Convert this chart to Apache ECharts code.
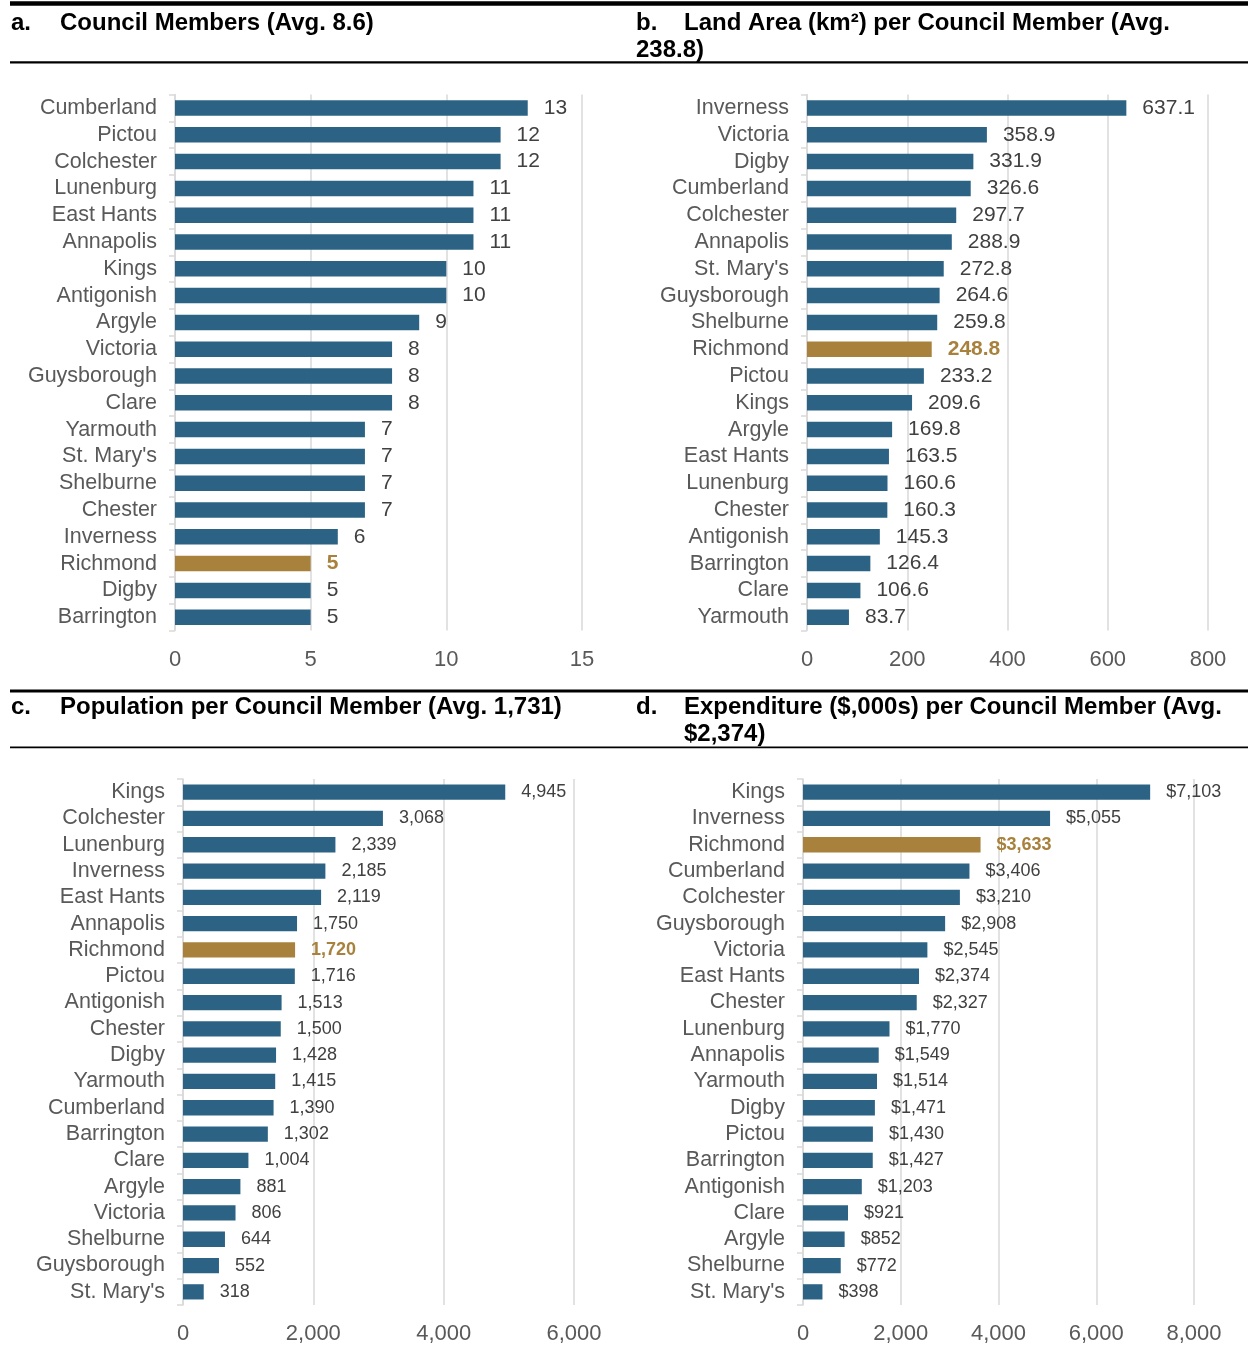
<!DOCTYPE html>
<html>
<head>
<meta charset="utf-8">
<title>Council Members</title>
<script src="https://cdn.jsdelivr.net/npm/echarts@6/dist/echarts.min.js"></script>
<style>
  html, body { margin: 0; padding: 0; background: #fff; }
  #chart { width: 1248px; height: 1361px; }
</style>
</head>
<body>
<div id="chart"></div>
<script>
// a. Council members
const catsA = ['Cumberland', 'Pictou', 'Colchester', 'Lunenburg', 'East Hants', 'Annapolis', 'Kings', 'Antigonish', 'Argyle', 'Victoria', 'Guysborough', 'Clare', 'Yarmouth', "St. Mary's", 'Shelburne', 'Chester', 'Inverness', 'Richmond', 'Digby', 'Barrington'];
const valsA = [13, 12, 12, 11, 11, 11, 10, 10, 9, 8, 8, 8, 7, 7, 7, 7, 6, 5, 5, 5];
const ticksA = [0, 5, 10, 15];

// b. Land area (km²) per council member
const catsB = ['Inverness', 'Victoria', 'Digby', 'Cumberland', 'Colchester', 'Annapolis', "St. Mary's", 'Guysborough', 'Shelburne', 'Richmond', 'Pictou', 'Kings', 'Argyle', 'East Hants', 'Lunenburg', 'Chester', 'Antigonish', 'Barrington', 'Clare', 'Yarmouth'];
const valsB = [637.1, 358.9, 331.9, 326.6, 297.7, 288.9, 272.8, 264.6, 259.8, 248.8, 233.2, 209.6, 169.8, 163.5, 160.6, 160.3, 145.3, 126.4, 106.6, 83.7];
const ticksB = [0, 200, 400, 600, 800];

// c. Population per council member
const catsC = ['Kings', 'Colchester', 'Lunenburg', 'Inverness', 'East Hants', 'Annapolis', 'Richmond', 'Pictou', 'Antigonish', 'Chester', 'Digby', 'Yarmouth', 'Cumberland', 'Barrington', 'Clare', 'Argyle', 'Victoria', 'Shelburne', 'Guysborough', "St. Mary's"];
const valsC = [4945, 3068, 2339, 2185, 2119, 1750, 1720, 1716, 1513, 1500, 1428, 1415, 1390, 1302, 1004, 881, 806, 644, 552, 318];
const ticksC = [0, 2000, 4000, 6000];

// d. Expenditure ($,000s) per council member
const catsD = ['Kings', 'Inverness', 'Richmond', 'Cumberland', 'Colchester', 'Guysborough', 'Victoria', 'East Hants', 'Chester', 'Lunenburg', 'Annapolis', 'Yarmouth', 'Digby', 'Pictou', 'Barrington', 'Antigonish', 'Clare', 'Argyle', 'Shelburne', "St. Mary's"];
const valsD = [7103, 5055, 3633, 3406, 3210, 2908, 2545, 2374, 2327, 1770, 1549, 1514, 1471, 1430, 1427, 1203, 921, 852, 772, 398];
const ticksD = [0, 2000, 4000, 6000, 8000];

const focusName = 'Richmond';
const BLUE = '#2c6385';
const GOLD = '#a8823d';
const FONT = '"Liberation Sans", Arial, sans-serif';

const fmtComma = v => Math.round(v).toLocaleString('en-US');
const fmtDollar = v => '$' + Math.round(v).toLocaleString('en-US');
const fmtOne = v => v.toFixed(1);
const fmtInt = v => String(v);

const panels = [
  { cats: catsA, vals: valsA, ticks: ticksA, grid: { left: 175, top: 94.6, width: 407, height: 536 }, labelSize: 21, valueFmt: fmtInt, tickFmt: fmtInt },
  { cats: catsB, vals: valsB, ticks: ticksB, grid: { left: 807, top: 94.6, width: 401, height: 536 }, labelSize: 21, valueFmt: fmtOne, tickFmt: fmtInt },
  { cats: catsC, vals: valsC, ticks: ticksC, grid: { left: 183, top: 779, width: 391, height: 526 }, labelSize: 18, valueFmt: fmtComma, tickFmt: fmtComma },
  { cats: catsD, vals: valsD, ticks: ticksD, grid: { left: 803, top: 779, width: 391, height: 526 }, labelSize: 18, valueFmt: fmtDollar, tickFmt: fmtComma }
];

const grids = [], xAxes = [], yAxes = [], series = [];
panels.forEach((p, i) => {
  grids.push(Object.assign({ containLabel: false }, p.grid));
  const step = p.ticks[1] - p.ticks[0];
  xAxes.push({
    type: 'value', gridIndex: i,
    min: p.ticks[0], max: p.ticks[p.ticks.length - 1], interval: step,
    axisLine: { show: false }, axisTick: { show: false },
    splitLine: { show: true, lineStyle: { color: '#d9d9d9', width: 1.5 } },
    axisLabel: { fontSize: 22, color: '#595959', margin: 18, fontFamily: FONT, formatter: p.tickFmt }
  });
  yAxes.push({
    type: 'category', gridIndex: i, inverse: true, data: p.cats,
    axisLine: { show: true, lineStyle: { color: '#d9d9d9', width: 1.5 } },
    axisTick: { show: true, length: 6, lineStyle: { color: '#d9d9d9', width: 1.5 } },
    axisLabel: { interval: 0, fontSize: 21.5, color: '#595959', margin: 18, fontFamily: FONT }
  });
  series.push({
    type: 'bar', xAxisIndex: i, yAxisIndex: i,
    barCategoryGap: '42%',
    itemStyle: { color: BLUE },
    label: {
      show: true, position: 'right', distance: 16,
      fontSize: p.labelSize, color: '#404040', fontFamily: FONT,
      formatter: prm => p.valueFmt(prm.value)
    },
    data: p.vals.map((v, k) => p.cats[k] === focusName
      ? { value: v, itemStyle: { color: GOLD }, label: { color: GOLD, fontWeight: 'bold' } }
      : v)
  });
});

const titleFont = 'bold 24px ' + FONT;
const hLine = (y, w, x1 = 10, x2 = 1248) => ({
  type: 'line', shape: { x1, y1: y, x2, y2: y }, style: { stroke: '#000', lineWidth: w }, silent: true
});
const tText = (x, y, text) => ({
  type: 'text', x, y, style: { text, font: titleFont, fill: '#000', verticalAlign: 'middle', align: 'left' }, silent: true
});

const graphic = [
  hLine(3.5, 4.5),
  hLine(62.3, 2.2),
  tText(11, 23, 'a.'),
  tText(60, 23, 'Council Members (Avg. 8.6)'),
  tText(636, 23, 'b.'),
  tText(684, 23, 'Land Area (km²) per Council Member (Avg.'),
  tText(636, 50.5, '238.8)'),
  hLine(691, 2.8),
  hLine(747.3, 1.8),
  tText(11, 707, 'c.'),
  tText(60, 707, 'Population per Council Member (Avg. 1,731)'),
  tText(636, 707, 'd.'),
  tText(684, 707, 'Expenditure ($,000s) per Council Member (Avg.'),
  tText(684, 734, '$2,374)')
];

const chart = echarts.init(document.getElementById('chart'));
chart.setOption({
  animation: false,
  backgroundColor: '#fff',
  textStyle: { fontFamily: FONT },
  grid: grids, xAxis: xAxes, yAxis: yAxes, series: series,
  graphic: graphic
});
</script>
</body>
</html>
